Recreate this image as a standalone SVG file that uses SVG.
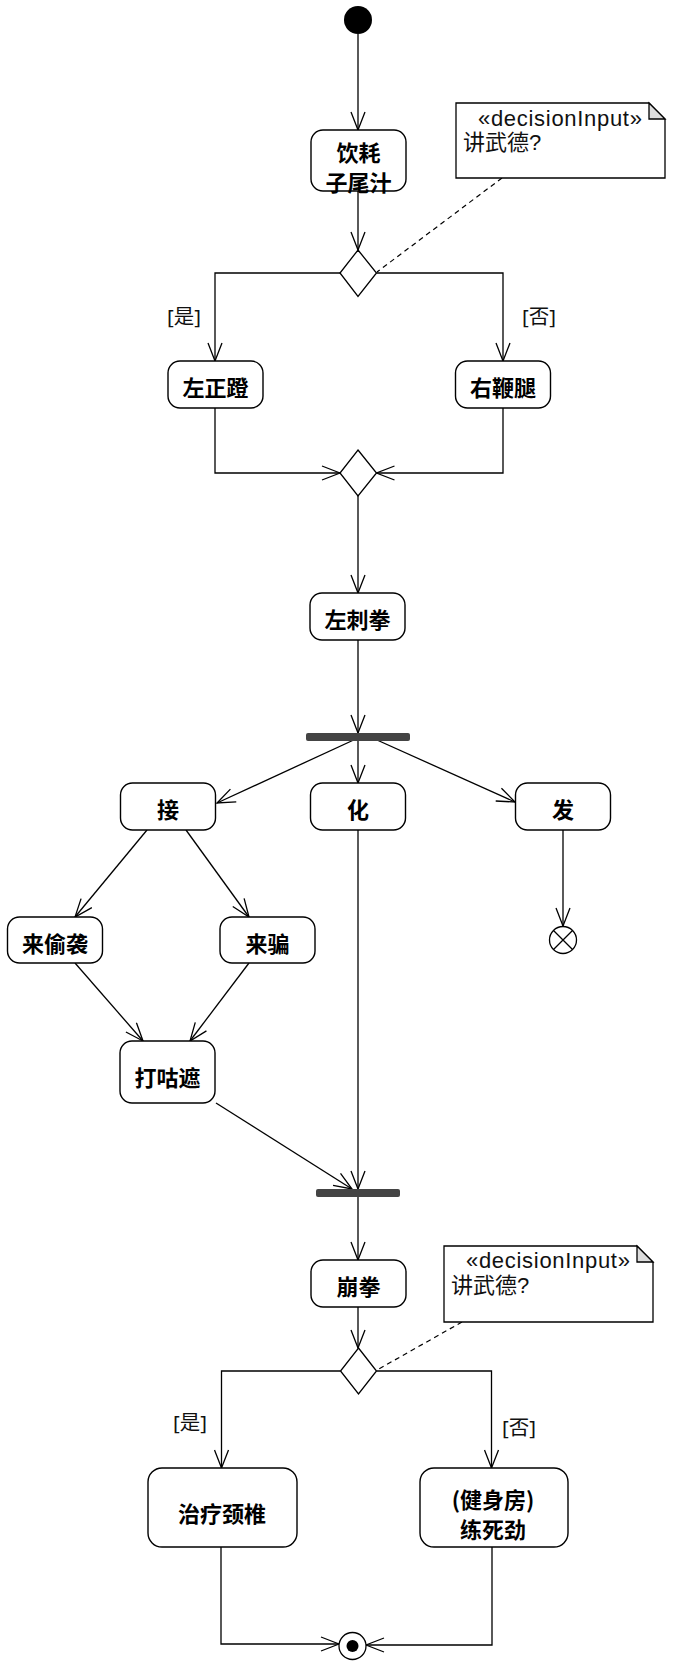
<svg xmlns="http://www.w3.org/2000/svg" width="678" height="1674" viewBox="0 0 678 1674">
<style>
.bg{fill:#fff}
.act{fill:#fff;stroke:#000;stroke-width:1.4}
.t{font-family:"Noto Sans CJK SC","Noto Sans",sans-serif;font-weight:bold;font-size:22px;fill:#000;text-anchor:middle;dominant-baseline:central}
.lbl{font-family:"Noto Sans","Noto Sans CJK SC",sans-serif;font-size:20.5px;fill:#111;text-anchor:middle;dominant-baseline:central}
.nt{font-family:"Liberation Sans","Noto Sans CJK SC",sans-serif;font-size:22px;fill:#111}
.st{letter-spacing:0.7px}
.dia{fill:#fff;stroke:#000;stroke-width:1.3}
.bar{fill:#444}
.e{fill:none;stroke:#000;stroke-width:1.3;marker-end:url(#arr)}
.dash{fill:none;stroke:#000;stroke-width:1.2;stroke-dasharray:5,4}
.note{fill:#fff;stroke:#000;stroke-width:1.3}
.ear{fill:#ddd;stroke:#000;stroke-width:1.3}
</style>
<defs>
<marker id="arr" viewBox="0 0 20 16" refX="19" refY="8" markerWidth="20" markerHeight="16" markerUnits="userSpaceOnUse" orient="auto">
<path d="M1,1 L19,8 L1,15" fill="none" stroke="#000" stroke-width="1.3"/>
</marker>
</defs>
<rect class="bg" x="0" y="0" width="678" height="1674"/>

<g id="connectors">
<path class="e" d="M358,34 V130"/>
<path class="e" d="M358,191 V250"/>
<path class="dash" d="M502,178 L377,272"/>
<path class="e" d="M340,273 H215 V361"/>
<path class="e" d="M376.5,273 H503 V361"/>
<path class="e" d="M215,408 V473 H340"/>
<path class="e" d="M503,408 V473 H376.5"/>
<path class="e" d="M358,496 V593"/>
<path class="e" d="M358,640 V733"/>
<path class="e" d="M358,738 L217,803"/>
<path class="e" d="M358,741 V783"/>
<path class="e" d="M377,740 L515,802"/>
<path class="e" d="M563,830 V926"/>
<path class="e" d="M147,830 L75,917"/>
<path class="e" d="M186,830 L249,917"/>
<path class="e" d="M75,963 L143,1041"/>
<path class="e" d="M249,963 L190,1041"/>
<path class="e" d="M216,1103 L352,1189"/>
<path class="e" d="M358,830 V1189"/>
<path class="e" d="M358,1197 V1260"/>
<path class="e" d="M358,1307 V1348"/>
<path class="dash" d="M462,1322 L377,1370"/>
<path class="e" d="M340.5,1371 H221.5 V1468"/>
<path class="e" d="M376.5,1371 H491.5 V1468"/>
<path class="e" d="M221,1547 V1644 H339"/>
<path class="e" d="M492,1547 V1645 H366"/>
<text class="lbl" x="184" y="316">[是]</text>
<text class="lbl" x="539" y="316">[否]</text>
<text class="lbl" x="190" y="1422">[是]</text>
<text class="lbl" x="519" y="1427">[否]</text>
</g>

<g id="start"><circle cx="358" cy="20" r="14" fill="#000"/></g>

<g id="a_yinhao">
<rect class="act" x="311" y="130" width="95" height="61" rx="12"/>
<text class="t"><tspan x="358.5" y="151">饮耗</tspan><tspan x="358.5" y="181">子尾汁</tspan></text>
</g>

<g id="note1">
<path class="note" d="M456,103 H649 L665,119 V178 H456 Z"/>
<path class="ear" d="M649,103 V119 H665 Z"/>
<text class="nt st" x="478" y="125.5">«decisionInput»</text>
<text class="nt" x="463" y="149.5">讲武德?</text>
</g>

<g id="decision1"><path class="dia" d="M358,250 L376.5,273 L358,296.5 L340,273 Z"/></g>

<g id="a_zuozhengdeng">
<rect class="act" x="168" y="361" width="95" height="47" rx="12"/>
<text class="t" x="215.5" y="386">左正蹬</text>
</g>
<g id="a_youbiantui">
<rect class="act" x="455.5" y="361" width="95" height="47" rx="12"/>
<text class="t" x="503" y="386">右鞭腿</text>
</g>

<g id="merge1"><path class="dia" d="M358,450 L376.5,473 L358,496 L340,473 Z"/></g>

<g id="a_zuociquan">
<rect class="act" x="310" y="593" width="95" height="47" rx="12"/>
<text class="t" x="357.5" y="618">左刺拳</text>
</g>

<g id="fork"><rect class="bar" x="306" y="733" width="104" height="8" rx="2"/></g>

<g id="a_jie">
<rect class="act" x="120.5" y="783" width="95" height="47" rx="12"/>
<text class="t" x="168" y="808">接</text>
</g>
<g id="a_hua">
<rect class="act" x="310.5" y="783" width="95" height="47" rx="12"/>
<text class="t" x="358" y="808">化</text>
</g>
<g id="a_fa">
<rect class="act" x="515.5" y="783" width="95" height="47" rx="12"/>
<text class="t" x="563" y="808">发</text>
</g>

<g id="flowfinal">
<circle cx="563" cy="940" r="13.5" fill="#fff" stroke="#000" stroke-width="1.3"/>
<path d="M553.5,930.5 L572.5,949.5 M572.5,930.5 L553.5,949.5" stroke="#000" stroke-width="1.3"/>
</g>

<g id="a_laitouxi">
<rect class="act" x="7.5" y="917" width="95" height="46" rx="12"/>
<text class="t" x="55" y="942">来偷袭</text>
</g>
<g id="a_laipian">
<rect class="act" x="220" y="917" width="95" height="46" rx="12"/>
<text class="t" x="267.5" y="942">来骗</text>
</g>

<g id="a_daguzhe">
<rect class="act" x="120" y="1041" width="95" height="62" rx="12"/>
<text class="t" x="167.5" y="1076">打咕遮</text>
</g>

<g id="join"><rect class="bar" x="316" y="1189" width="84" height="8" rx="2"/></g>

<g id="a_bengquan">
<rect class="act" x="311" y="1260" width="95" height="47" rx="12"/>
<text class="t" x="358.5" y="1285">崩拳</text>
</g>

<g id="note2">
<path class="note" d="M444,1246 H637 L653,1262 V1322 H444 Z"/>
<path class="ear" d="M637,1246 V1262 H653 Z"/>
<text class="nt st" x="466" y="1267.5">«decisionInput»</text>
<text class="nt" x="451" y="1292.5">讲武德?</text>
</g>

<g id="decision2"><path class="dia" d="M358.5,1348 L376.5,1371 L358.5,1394 L340.5,1371 Z"/></g>

<g id="a_zhiliao">
<rect class="act" x="148" y="1468" width="149" height="79" rx="14"/>
<text class="t" x="222" y="1512">治疗颈椎</text>
</g>
<g id="a_jianshen">
<rect class="act" x="420" y="1468" width="148" height="79" rx="14"/>
<text class="t"><tspan x="493" y="1497.5">(健身房)</tspan><tspan x="493" y="1528">练死劲</tspan></text>
</g>

<g id="final">
<circle cx="352.5" cy="1646" r="13.5" fill="#fff" stroke="#000" stroke-width="1.3"/>
<circle cx="352.5" cy="1646" r="6" fill="#000"/>
</g>
</svg>
